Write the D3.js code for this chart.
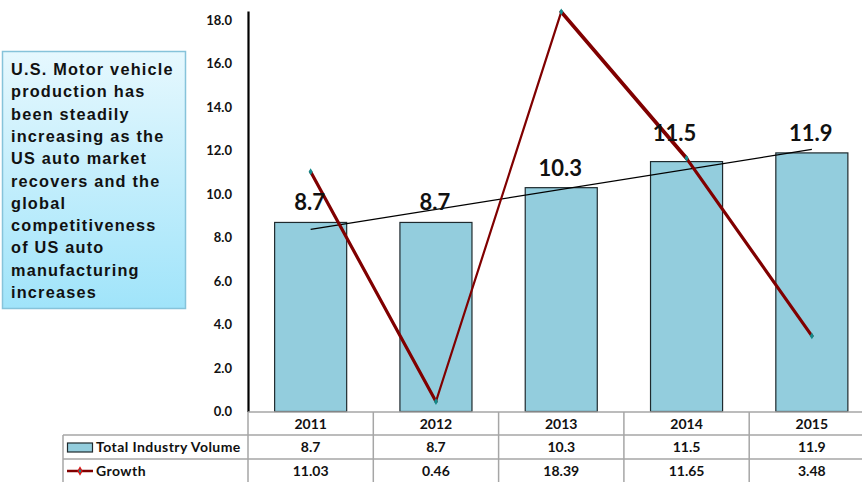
<!DOCTYPE html>
<html>
<head>
<meta charset="utf-8">
<script src="https://cdn.jsdelivr.net/npm/d3@7"></script>
<style>
  html, body { margin: 0; padding: 0; background: #fff; }
  svg { display: block; }
</style>
</head>
<body>
<svg id="chart" width="862" height="482"></svg>
<script>
// ---- data ----
const years = ["2011", "2012", "2013", "2014", "2015"];
const volume = [8.7, 8.7, 10.3, 11.5, 11.9];
const growth = [11.03, 0.46, 18.39, 11.65, 3.48];
const yTicks = [0, 2, 4, 6, 8, 10, 12, 14, 16, 18];
const seriesNames = ["Total Industry Volume", "Growth"];
const noteLines = [
  "U.S. Motor vehicle",
  "production has",
  "been steadily",
  "increasing as the",
  "US auto market",
  "recovers and the",
  "global",
  "competitiveness",
  "of US auto",
  "manufacturing",
  "increases"
];

// ---- layout ----
const W = 862, H = 482;
const plotLeft = 248, plotRight = 874.5, plotTop = 11, plotBottom = 411.5;
const tableLeft = 63, rowH = [412, 435, 459, 482];
const numFont = "Lato, 'Open Sans', sans-serif";
const barFill = "#93CDDD", barStroke = "#1f2a2e";
const lineColor = "#800000", markerColor = "#138a8a";
const gridColor = "#a6a6a6";

const svg = d3.select("#chart");

const x = d3.scaleBand().domain(years).range([plotLeft, plotRight]).paddingInner(0.425).paddingOuter(0.2125);
const xc = d => x(d) + x.bandwidth() / 2;
const y = d3.scaleLinear().domain([0, 18.43]).range([plotBottom, plotTop]);

// ---- note box ----
const defs = svg.append("defs");
const grad = defs.append("linearGradient").attr("id", "noteGrad")
  .attr("x1", 0).attr("y1", 0).attr("x2", 0).attr("y2", 1);
grad.append("stop").attr("offset", "0%").attr("stop-color", "#e6f8fe");
grad.append("stop").attr("offset", "100%").attr("stop-color", "#a0e4fa");

svg.append("rect")
  .attr("x", 2.5).attr("y", 51.5).attr("width", 183).attr("height", 257)
  .attr("fill", "url(#noteGrad)").attr("stroke", "#86c3da").attr("stroke-width", 1.5);

svg.append("text")
  .attr("font-family", "'Liberation Sans', Arial, sans-serif")
  .attr("font-weight", "bold").attr("font-size", 16.3).attr("letter-spacing", 1.2).attr("fill", "#111")
  .selectAll("tspan").data(noteLines).join("tspan")
  .attr("x", 11).attr("y", (d, i) => 75 + i * 22.3)
  .text(d => d);

// ---- bars ----
svg.append("g").selectAll("rect").data(years).join("rect")
  .attr("x", d => x(d)).attr("width", x.bandwidth())
  .attr("y", (d, i) => y(volume[i]))
  .attr("height", (d, i) => y(0) - y(volume[i]))
  .attr("fill", barFill).attr("stroke", barStroke).attr("stroke-width", 1.2);

// ---- y axis ----
const yAxis = d3.axisLeft(y).tickValues(yTicks).tickFormat(d3.format(".1f")).tickSize(0).tickPadding(16);
const gy = svg.append("g").attr("transform", `translate(${plotLeft},0)`).call(yAxis);
gy.select(".domain").attr("stroke", "#000").attr("stroke-width", 2.2);
gy.selectAll("text").attr("font-family", numFont).attr("font-weight", "bold")
  .attr("font-size", 13).attr("fill", "#111");

// ---- trendline of volume (least squares) ----
const xi = years.map((d, i) => i + 1);
const mx = d3.mean(xi), my = d3.mean(volume);
const slope = d3.sum(xi, (v, i) => (v - mx) * (volume[i] - my)) / d3.sum(xi, v => (v - mx) ** 2);
const icpt = my - slope * mx;
svg.append("line")
  .attr("x1", xc(years[0])).attr("y1", y(icpt + slope * 1))
  .attr("x2", xc(years[years.length - 1])).attr("y2", y(icpt + slope * years.length))
  .attr("stroke", "#000").attr("stroke-width", 1.3);

// ---- growth line ----
const segWidth = [3.2, 2.2, 3.8, 3.2];
const segs = d3.pairs(years.map((d, i) => [xc(d), y(growth[i])]));
svg.append("g").selectAll("line").data(segs).join("line")
  .attr("x1", d => d[0][0]).attr("y1", d => d[0][1])
  .attr("x2", d => d[1][0]).attr("y2", d => d[1][1])
  .attr("stroke", lineColor).attr("stroke-width", (d, i) => segWidth[i])
  .attr("stroke-linecap", "round");
svg.append("g").selectAll("path").data(years).join("path")
  .attr("d", d3.symbol(d3.symbolDiamond, 14))
  .attr("transform", (d, i) => `translate(${xc(d)},${y(growth[i])})`)
  .attr("fill", markerColor);

// ---- value labels ----
const labelNudge = { "2014": [-11, -9] };
svg.append("g").selectAll("text").data(years).join("text")
  .attr("x", d => xc(d) - 1 + (labelNudge[d] ? labelNudge[d][0] : 0))
  .attr("y", (d, i) => y(volume[i]) - 12 + (labelNudge[d] ? labelNudge[d][1] : 0))
  .attr("text-anchor", "middle")
  .attr("font-family", numFont).attr("font-weight", "bold").attr("font-size", 22).attr("fill", "#111")
  .text((d, i) => d3.format(".1f")(volume[i]));

// ---- data table ----
const colEdges = years.map(d => x(d) - x.step() * x.paddingInner() / 2);
const tg = svg.append("g").attr("stroke", gridColor).attr("stroke-width", 1.5).attr("fill", "none");
// horizontal rules
tg.append("line").attr("x1", plotLeft).attr("x2", W).attr("y1", rowH[0]).attr("y2", rowH[0]);
tg.append("line").attr("x1", tableLeft).attr("x2", W).attr("y1", rowH[1]).attr("y2", rowH[1]);
tg.append("line").attr("x1", tableLeft).attr("x2", W).attr("y1", rowH[2]).attr("y2", rowH[2]);
// vertical rules
tg.append("line").attr("x1", tableLeft).attr("x2", tableLeft).attr("y1", rowH[1]).attr("y2", H);
tg.selectAll("line.col").data(colEdges).join("line").attr("class", "col")
  .attr("x1", d => d).attr("x2", d => d).attr("y1", rowH[0]).attr("y2", H);

const cellText = (rowIdx, vals) => svg.append("g").selectAll("text").data(years).join("text")
  .attr("x", d => xc(d))
  .attr("y", (rowH[rowIdx] + rowH[rowIdx + 1]) / 2)
  .attr("dy", "0.36em").attr("text-anchor", "middle")
  .attr("font-family", numFont).attr("font-weight", "bold").attr("font-size", 14).attr("fill", "#111")
  .text((d, i) => vals[i]);
cellText(0, years);
cellText(1, volume.map(v => d3.format(".1f")(v)));
cellText(2, growth.map(v => d3.format(".2f")(v)));

// legend keys
svg.append("rect").attr("x", 67.5).attr("y", 443).attr("width", 25).attr("height", 9)
  .attr("fill", barFill).attr("stroke", barStroke).attr("stroke-width", 1.2);
svg.append("line").attr("x1", 67).attr("x2", 93).attr("y1", 471).attr("y2", 471)
  .attr("stroke", lineColor).attr("stroke-width", 2.5);
svg.append("path").attr("d", d3.symbol(d3.symbolDiamond, 26))
  .attr("transform", "translate(80,471)").attr("fill", "#e01010");
svg.append("path").attr("d", d3.symbol(d3.symbolDiamond, 6))
  .attr("transform", "translate(80,471)").attr("fill", markerColor);
svg.append("g").selectAll("text").data(seriesNames).join("text")
  .attr("x", 96).attr("y", (d, i) => (rowH[i + 1] + rowH[i + 2]) / 2).attr("dy", "0.36em")
  .attr("font-family", numFont).attr("font-weight", "bold").attr("font-size", 14)
  .attr("letter-spacing", 0.45).attr("fill", "#111")
  .text(d => d);
</script>
</body>
</html>
